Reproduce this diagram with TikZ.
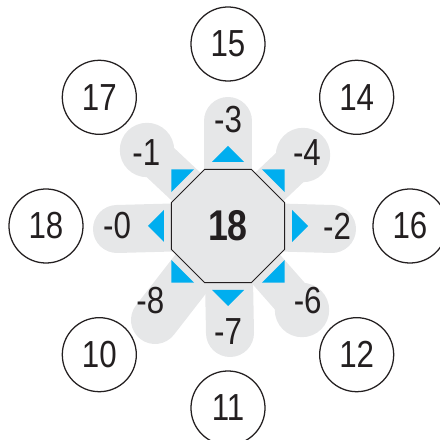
\documentclass[tikz,border=0pt]{standalone}
\usepackage{fontspec}
\setmainfont{Liberation Sans}[FakeStretch=0.83]
\usetikzlibrary{shapes.geometric,backgrounds}
\definecolor{PetalGray}{HTML}{E6E7E8}
\definecolor{MarkBlue} {HTML}{00AEEF}
\definecolor{InkBlack} {HTML}{231F20}
\tikzset{
  ring/.style={circle,draw=InkBlack,line width=0.9pt,minimum size=1.85cm,
               inner sep=0pt,font=\fontsize{26.8}{30}\selectfont,text=InkBlack},
  hubbox/.style={regular polygon,regular polygon sides=8,draw=InkBlack,
               line width=0.7pt,fill=PetalGray,minimum size=3.06cm,inner sep=0pt,
               font=\fontsize{30.6}{34}\selectfont\bfseries,text=InkBlack},
  offlbl/.style={inner sep=0pt,font=\fontsize{26.8}{30}\selectfont,text=InkBlack},
  petal/.style={line width=1.2cm,line cap=round,color=PetalGray},
  stem/.style={line width=1.0cm,line cap=round,color=PetalGray},
  blob/.style={fill=PetalGray},
  tipmark/.style={fill=MarkBlue},
}

\begin{document}
\begin{tikzpicture}[x=0.025cm,y=0.025cm]
  \useasboundingbox (-228,-214) rectangle (212,226);

  % centre
  \node[hubbox] (hub) at (0,0) {18};

  % outer ring
  \node[ring] (c15) at (90:182)   {15};
  \node[ring] (c14) at (45:182)   {14};
  \node[ring] (c16) at (0:182)    {16};
  \node[ring] (c12) at (-45:182)  {12};
  \node[ring] (c11) at (-90:182)  {11};
  \node[ring] (c10) at (-135:182) {10};
  \node[ring] (c18) at (180:182)  {18};
  \node[ring] (c17) at (135:182)  {17};

  % offsets
  \node[offlbl] (o3) at (90:106)  {-3};
  \node[offlbl] (o4) at (43:108)  {-4};
  \node[offlbl] (o2) at (0:109)   {-2};
  \node[offlbl] (o6) at (-43:109) {-6};
  \node[offlbl] (o7) at (-90:106) {-7};
  \node[offlbl] (o8) at (-136:108){-8};
  \node[offlbl] (o0) at (180:111) {-0};
  \node[offlbl] (o1) at (138:110) {-1};

  % petal ends
  \coordinate (e3) at (0,105);
  \coordinate (e2) at (104,-3);
  \coordinate (e7) at (2,-107);
  \coordinate (e0) at (-111,-3);
  \coordinate (e8) at (-73,-94);
  \coordinate (e4) at (75,71);
  \coordinate (e6) at (74,-84);
  \coordinate (e1) at (-81,76);

  \begin{scope}[on background layer]
    \foreach \o in {3,2,7,0,8}
      \draw[petal] (hub.center) -- (e\o);
    \foreach \o in {4,6,1}{
      \draw[stem] (hub.center) -- (e\o);
      \fill[blob] (e\o) circle[radius=0.68cm];
    }
  \end{scope}

  % direction marks
  \foreach \a in {0,45,...,315}
    \fill[tipmark,rotate=\a] (64,-16) -- (80,0) -- (64,16) -- cycle;

\end{tikzpicture}
\end{document}
